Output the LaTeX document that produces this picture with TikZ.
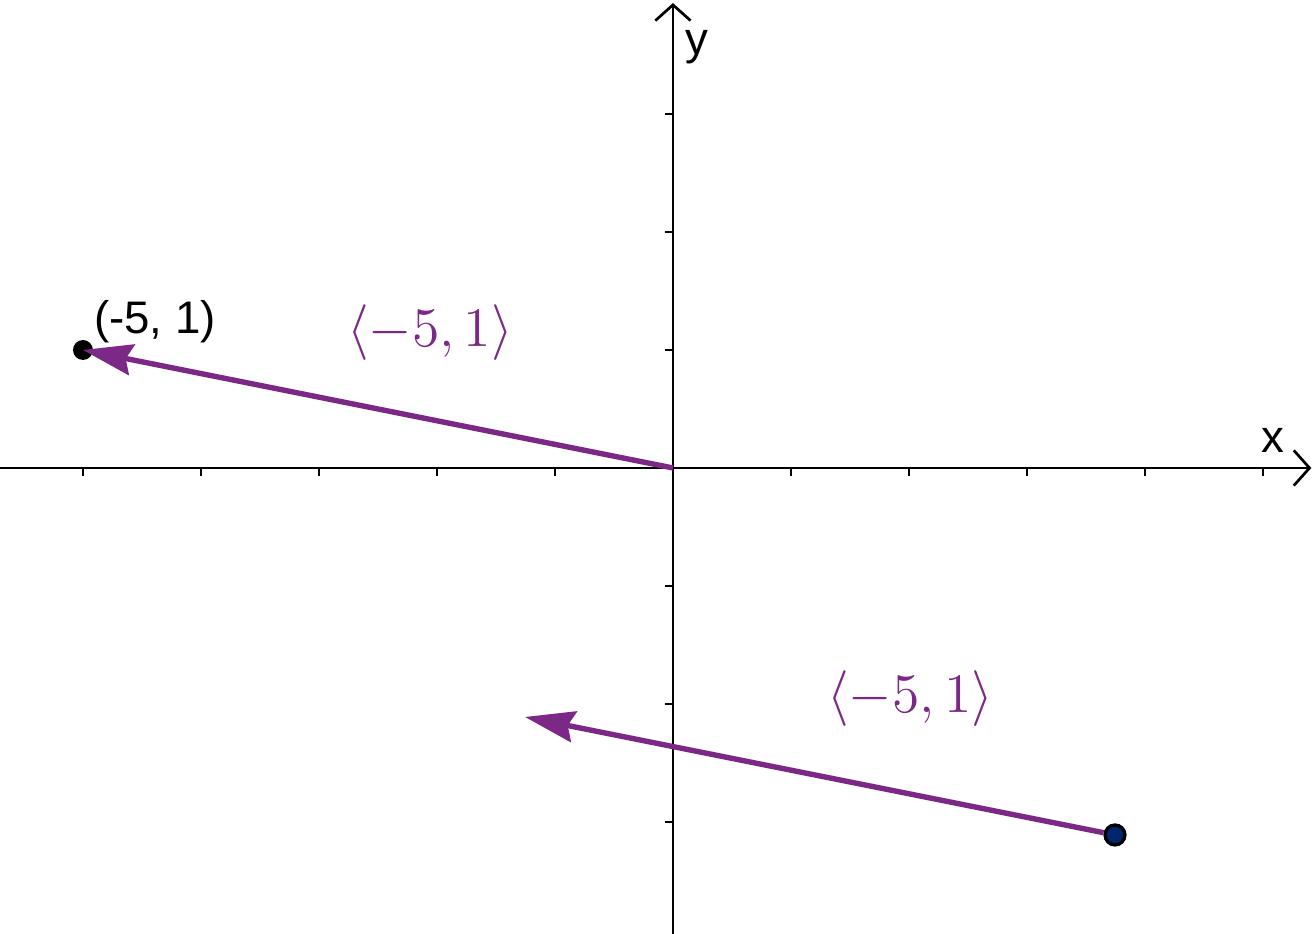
\documentclass[tikz,border=0pt]{standalone}
\usepackage{amsmath}
\usepackage{fontspec}
\setsansfont{Liberation Sans}
\usetikzlibrary{arrows.meta}
\definecolor{vecpurple}{RGB}{124,40,134}
\definecolor{ptblue}{RGB}{0,38,110}
\tikzset{
    axis/.style={line width=0.65pt,-{Straight Barb[length=3.8pt,width=8.5pt]}},
    vec/.style={line width=1.3pt,vecpurple,-{Stealth[length=12pt,width=7.5pt,inset=1.5pt]}},
    pt/.style={circle,inner sep=0pt,minimum size=4.8pt},
    lbl/.style={font=\sffamily\fontsize{11}{13}\selectfont,inner sep=0pt},
    veclbl/.style={vecpurple,font=\fontsize{12}{14}\selectfont,scale=1.12,transform shape}
}

\begin{document}
\begin{tikzpicture}
    \useasboundingbox (-5.703,-3.949) rectangle (5.441,3.966);
    \draw[axis](-5.703,0)--(5.41,0);
    \draw[axis](0,-3.949)--(0,3.94);
    \node[lbl] (xl) at (5.085,0.237) {x};
    \node[lbl] (yl) at (0.203,3.57) {y};
    \foreach \x in {-5,-4,-3,-2,-1,1,2,3,4,5}
        \draw[line width=0.65pt] (\x,0) -- (\x,-0.07);
    \foreach \y in {-3,-2,-1,1,2,3}
        \draw[line width=0.65pt] (0,\y) -- (-0.07,\y);
    % vector from the origin
    \coordinate (O) at (0,0);
    \node[pt,fill=black] (P) at (-5,1) {};
    \node[lbl] (Pl) at (-4.39,1.24) {(-5, 1)};
    \draw[vec] (O) -- (P.center);
    \node[veclbl] (v1) at (-2.06,1.15) {$\langle -5,1\rangle$};
    % same vector, other start
    \node[pt,fill=ptblue,draw=black,line width=0.8pt] (Q) at (3.746,-3.11) {};
    \coordinate (R) at (-1.254,-2.11);
    \draw[vec] (Q) -- (R);
    \node[veclbl] (v2) at (2.01,-1.95) {$\langle -5,1\rangle$};
\end{tikzpicture}
\end{document}
